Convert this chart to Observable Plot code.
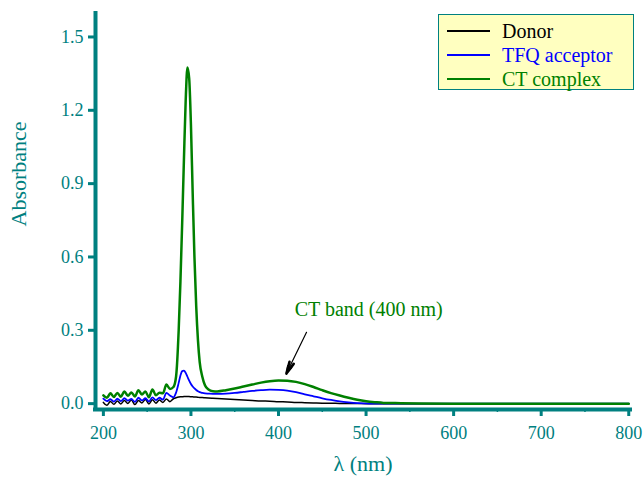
<!DOCTYPE html>
<html>
<head>
<meta charset="utf-8">
<script src="https://cdn.jsdelivr.net/npm/d3@7"></script>
<script src="https://cdn.jsdelivr.net/npm/@observablehq/plot@0.6"></script>
<style>
  html, body { margin: 0; padding: 0; background: #fff; }
  #chart { position: relative; width: 643px; height: 482px; font-family: "Liberation Serif", "Times New Roman", serif; }
  #legend {
    position: absolute; left: 438px; top: 14px; width: 196px; height: 76px;
    background: #ffffc0; border: 1.5px solid #008080; box-sizing: border-box;
    padding-top: 4px;
  }
  .row { display: flex; align-items: center; height: 24px; font-size: 20px; line-height: 24px; }
  .swatch { display: inline-block; width: 43px; margin-left: 8px; margin-right: 12px; }
</style>
</head>
<body>
<div id="chart"></div>
<script>
// Wavelength grid (nm): noisy UV edge, main absorption peak, then the visible tail
const wavelength = [
  200, 204, 208, 212, 216, 220, 224, 228, 232, 236, 240, 244, 248, 252, 256, 260, 264, 268, 272, 276, 280,
  283, 286, 288, 290, 292, 294, 296, 298, 300, 302, 304, 306, 308, 310, 313, 316, 320, 325, 330,
  340, 350, 360, 370, 380, 390, 400, 410, 420, 430, 440, 450, 460, 470, 480, 490, 500, 510, 520, 540, 560, 600, 650, 700, 750, 800
];

const donor = [
  0.005, -0.007, 0.009, -0.003, 0.011, -0.001, 0.013, 0.001, 0.015, -0.004, 0.013, 0.003, 0.017, -0.001, 0.016, 0.002, 0.015, 0.005, 0.019, 0.008, 0.020,
  0.024, 0.027, 0.028, 0.028, 0.029, 0.029, 0.029, 0.029, 0.028, 0.028, 0.027, 0.027, 0.026, 0.025, 0.025, 0.024, 0.023, 0.022, 0.021,
  0.019, 0.017, 0.015, 0.013, 0.011, 0.010, 0.008, 0.007, 0.005, 0.004, 0.003, 0.002, 0.002, 0.001, 0.001, 0.001, 0.000, 0.000, 0.000, 0.000, 0.000, 0.000, 0.000, 0.000, 0.000, 0.000
];

const acceptor = [
  0.020, 0.010, 0.018, 0.008, 0.020, 0.010, 0.022, 0.012, 0.019, 0.007, 0.024, 0.013, 0.022, 0.009, 0.026, 0.014, 0.024, 0.016, 0.044, 0.033, 0.026,
  0.045, 0.085, 0.115, 0.133, 0.135, 0.126, 0.110, 0.094, 0.080, 0.070, 0.062, 0.056, 0.051, 0.047, 0.044, 0.042, 0.041, 0.040, 0.040,
  0.041, 0.044, 0.048, 0.052, 0.055, 0.057, 0.056, 0.053, 0.047, 0.038, 0.030, 0.022, 0.015, 0.009, 0.005, 0.002, 0.001, 0.000, 0.000, 0.000, 0.000, 0.000, 0.000, 0.000, 0.000, 0.000
];

const complex = [
  0.034, 0.024, 0.042, 0.027, 0.044, 0.028, 0.050, 0.032, 0.046, 0.029, 0.055, 0.037, 0.050, 0.026, 0.058, 0.034, 0.045, 0.042, 0.078, 0.060, 0.068,
  0.110, 0.300, 0.500, 0.740, 1.000, 1.240, 1.375, 1.330, 1.140, 0.860, 0.600, 0.400, 0.260, 0.170, 0.110, 0.075, 0.058, 0.051, 0.050,
  0.055, 0.062, 0.070, 0.078, 0.086, 0.092, 0.095, 0.094, 0.089, 0.080, 0.068, 0.055, 0.043, 0.033, 0.024, 0.016, 0.010, 0.006, 0.003, 0.002, 0.001, 0.000, 0.000, 0.000, 0.000, 0.000
];

const seriesNames = ["Donor", "TFQ acceptor", "CT complex"];
const seriesColors = ["#000000", "#0000ff", "#008000"];
const seriesWidths = [1.5, 1.8, 2.5];

const xTicks = [200, 300, 400, 500, 600, 700, 800];
const xMinorTicks = [250, 350, 450, 550, 650, 750];
const yTicks = [0.0, 0.3, 0.6, 0.9, 1.2, 1.5];

const xDomain = [191, 802];
const yDomain = [-0.024, 1.596];

// CT band callout: label position and arrow from label down to the band maximum
const bandLabel = {text: "CT band (400 nm)", x: 503, y: 0.385};
const bandArrow = {x1: 432, y1: 0.292, x2: 409, y2: 0.123};

const teal = "#008080";
const fontFamily = "'Liberation Serif', 'Times New Roman', serif";

const rows = [
  wavelength.map((w, i) => ({w, a: donor[i], s: seriesNames[0]})),
  wavelength.map((w, i) => ({w, a: acceptor[i], s: seriesNames[1]})),
  wavelength.map((w, i) => ({w, a: complex[i], s: seriesNames[2]}))
];

const chart = Plot.plot({
  width: 643,
  height: 482,
  marginLeft: 95,
  marginRight: 13,
  marginTop: 13,
  marginBottom: 73,
  style: {fontFamily, background: "#fff"},
  x: {domain: xDomain},
  y: {domain: yDomain},
  marks: [
    // spectra
    ...rows.map((data, i) => Plot.line(data, {
      x: "w", y: "a", stroke: seriesColors[i], strokeWidth: seriesWidths[i], curve: "monotone-x"
    })),
    // axes
    Plot.axisY({
      ticks: yTicks, tickFormat: d3.format(".1f"), tickSize: 7, tickPadding: 5,
      stroke: teal, strokeWidth: 3, fill: teal, fontSize: 18, label: null
    }),
    Plot.axisX({
      ticks: xTicks, tickFormat: d3.format("d"), tickSize: 7, tickPadding: 10,
      stroke: teal, strokeWidth: 3, fill: teal, fontSize: 18, label: null
    }),
    Plot.axisX({
      ticks: xMinorTicks, tickFormat: () => "", tickSize: 3, stroke: teal, strokeWidth: 1.5, label: null
    }),
    Plot.ruleX([xDomain[0]], {y1: yDomain[0], y2: yDomain[1], stroke: teal, strokeWidth: 4, strokeLinecap: "square"}),
    Plot.ruleY([yDomain[0]], {x1: xDomain[0], x2: xDomain[1], stroke: teal, strokeWidth: 4, strokeLinecap: "square"}),
    // axis titles
    Plot.text(["λ (nm)"], {frameAnchor: "bottom", dy: 61, fill: teal, fontSize: 22}),
    Plot.text(["Absorbance"], {frameAnchor: "left", dx: -77, dy: 15, rotate: -90, fill: teal, fontSize: 22}),
    // annotation
    Plot.text([bandLabel], {x: "x", y: "y", text: "text", fill: "#008000", fontSize: 20}),
    Plot.arrow([bandArrow], {x1: "x1", y1: "y1", x2: "x2", y2: "y2", stroke: "#000", strokeWidth: 1.2, headLength: 10, headAngle: 34}),
    // thicker short copy near the tip gives a solid arrowhead
    Plot.arrow([bandArrow], {x1: "x1", y1: "y1", x2: "x2", y2: "y2", stroke: "#000", strokeWidth: 2.6, headLength: 7, headAngle: 22, insetStart: 39})
  ]
});

const host = document.getElementById("chart");
host.appendChild(chart);

// legend box, top right
const legend = document.createElement("div");
legend.id = "legend";
seriesNames.forEach((name, i) => {
  const row = document.createElement("div");
  row.className = "row";
  const sw = document.createElement("span");
  sw.className = "swatch";
  sw.style.height = `${Math.max(2, seriesWidths[i])}px`;
  sw.style.background = seriesColors[i];
  const label = document.createElement("span");
  label.textContent = name;
  label.style.color = seriesColors[i];
  row.appendChild(sw);
  row.appendChild(label);
  legend.appendChild(row);
});
host.appendChild(legend);
</script>
</body>
</html>
